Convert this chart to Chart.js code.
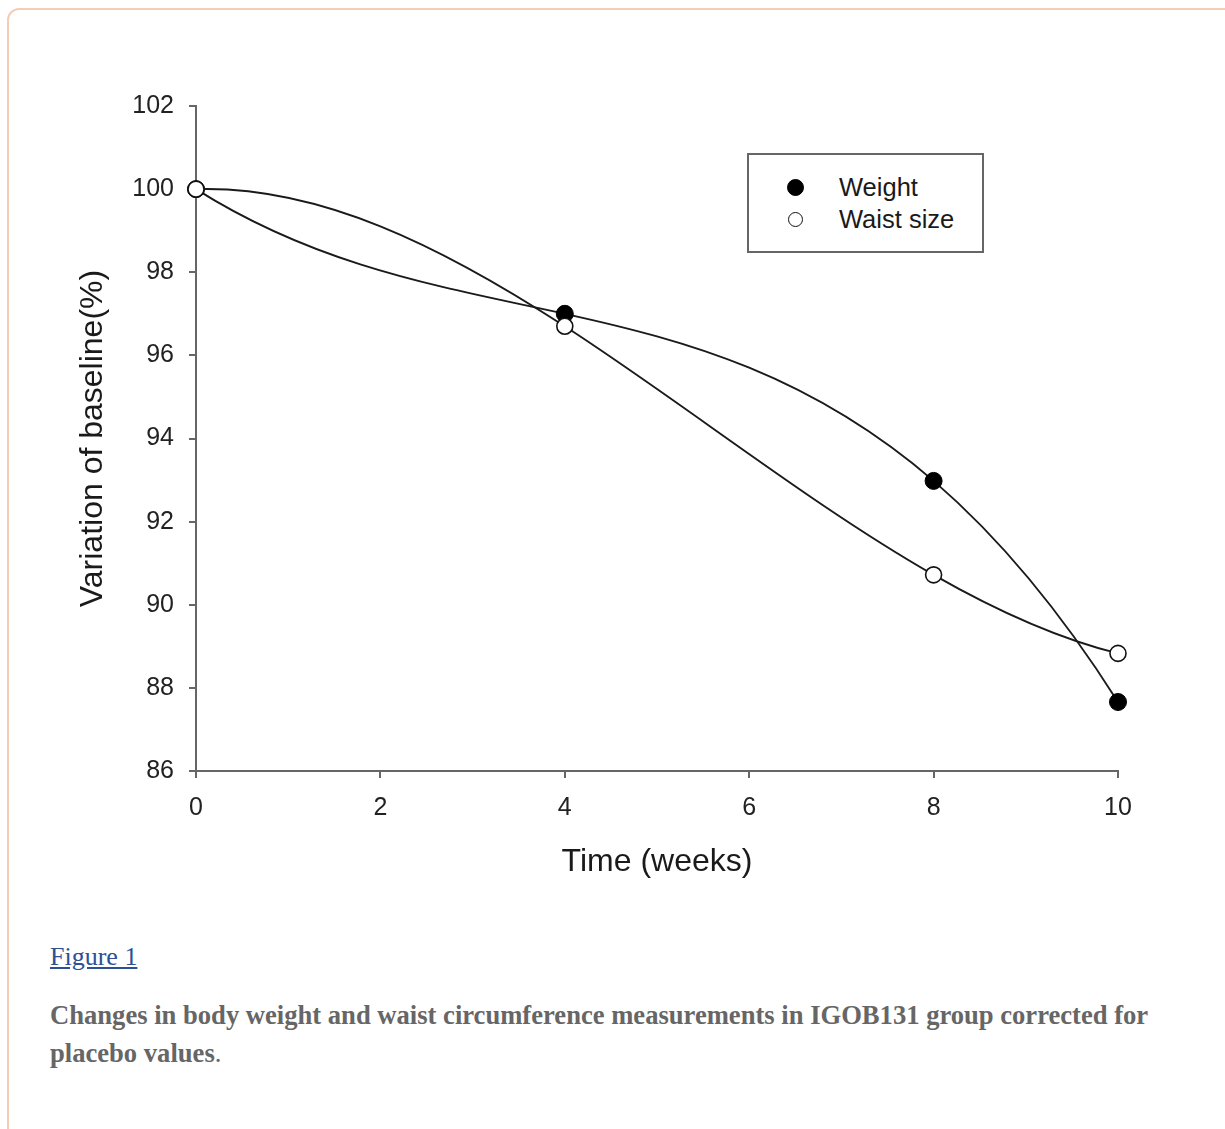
<!DOCTYPE html>
<html>
<head>
<meta charset="utf-8">
<script src="https://cdn.jsdelivr.net/npm/chart.js@4.4.1/dist/chart.umd.min.js"></script>
<style>
  html, body { margin: 0; padding: 0; background: #ffffff; }
  body { width: 1225px; height: 1129px; position: relative; overflow: hidden; }
  #frame { position: absolute; left: 7px; top: 8px; width: 1260px; height: 1200px;
           border: 2px solid #f4cdb7; border-radius: 12px; box-sizing: border-box; }
  #chart { position: absolute; left: 0; top: 0; }
  #legend { position: absolute; left: 747px; top: 153px; width: 237px; height: 100px;
            box-sizing: border-box; border: 2px solid #666; background: #fff;
            font-family: "Liberation Sans", Arial, sans-serif; font-size: 25.5px; color: #1a1a1a; }
  .item { position: absolute; left: 0; height: 30px; line-height: 30px; }
  .mark { position: absolute; border-radius: 50%; box-sizing: border-box; }
  .lab { position: absolute; left: 90px; white-space: nowrap; }
  #fig { position: absolute; left: 50px; top: 942px; font-family: "Liberation Serif", "Times New Roman", serif;
         font-size: 26px; color: #2c4f96; text-decoration: underline; }
  #cap { position: absolute; left: 50px; top: 996px; width: 1170px; font-family: "Liberation Serif", "Times New Roman", serif;
         font-size: 26.6px; line-height: 38px; color: #666; }
  #cap b { font-weight: bold; }
</style>
</head>
<body>
<div id="frame"></div>
<canvas id="chart" width="1225" height="881"></canvas>
<div id="legend"></div>
<div id="fig">Figure 1</div>
<div id="cap"><b>Changes in body weight and waist circumference measurements in IGOB131 group corrected for<br>placebo values</b>.</div>
<script>
// ---- data ----
const weeks = [0, 4, 8, 10];
const weightValues = [100, 97.0, 92.98, 87.66];
const waistValues = [100, 96.7, 90.72, 88.83];
const seriesNames = ["Weight", "Waist size"];
const xTicks = [0, 2, 4, 6, 8, 10];
const yTicks = [86, 88, 90, 92, 94, 96, 98, 100, 102];
const xTitle = "Time (weeks)";
const yTitle = "Variation of baseline(%)";

const toPoints = (xs, ys) => xs.map((x, i) => ({ x: x, y: ys[i] }));

const tickFont = { family: "'Liberation Sans', Arial, sans-serif", size: 25 };
const titleFont = { family: "'Liberation Sans', Arial, sans-serif", size: 32 };
const axisColor = '#666';

// The original figure joins the points with the polynomial curve that passes
// through them. This plugin sets the line's Bezier control points so that each
// segment follows that curve, using the chart's own scales.
function lagrange(xs, ys, x) {
  let s = 0;
  for (let j = 0; j < xs.length; j++) {
    let l = 1;
    for (let k = 0; k < xs.length; k++) if (k !== j) l *= (x - xs[k]) / (xs[j] - xs[k]);
    s += ys[j] * l;
  }
  return s;
}
const polyCurve = {
  id: 'polyCurve',
  beforeDatasetDraw(chart, args) {
    const meta = args.meta;
    const line = meta.dataset;
    const pts = meta.data;
    const raw = chart.data.datasets[args.index].data;
    const xs = raw.map(d => d.x), ys = raw.map(d => d.y);
    const xS = meta.xScale, yS = meta.yScale;
    line.updateControlPoints(chart.chartArea, 'x');
    const eps = 1e-4;
    for (let i = 0; i < pts.length; i++) {
      const d = (lagrange(xs, ys, xs[i] + eps) - lagrange(xs, ys, xs[i] - eps)) / (2 * eps);
      const p = pts[i];
      if (i > 0) {
        const h = (xs[i] - xs[i - 1]) / 3;
        p.cp1x = xS.getPixelForValue(xs[i] - h);
        p.cp1y = yS.getPixelForValue(ys[i] - d * h);
      } else { p.cp1x = p.x; p.cp1y = p.y; }
      if (i < pts.length - 1) {
        const h = (xs[i + 1] - xs[i]) / 3;
        p.cp2x = xS.getPixelForValue(xs[i] + h);
        p.cp2y = yS.getPixelForValue(ys[i] + d * h);
      } else { p.cp2x = p.x; p.cp2y = p.y; }
    }
    line._path = undefined;
  }
};

const cfg = {
  type: 'line',
  data: {
    datasets: [
      {
        label: seriesNames[0],
        data: toPoints(weeks, weightValues),
        borderColor: '#1a1a1a',
        borderWidth: 1.9,
        tension: 0.4,
        pointRadius: 8.5,
        pointBackgroundColor: '#000',
        pointBorderColor: '#000',
        pointBorderWidth: 1,
        fill: false,
        clip: false,
        order: 2
      },
      {
        label: seriesNames[1],
        data: toPoints(weeks, waistValues),
        borderColor: '#1a1a1a',
        borderWidth: 1.9,
        tension: 0.4,
        pointRadius: 8,
        pointBackgroundColor: '#fff',
        pointBorderColor: '#111',
        pointBorderWidth: 1.6,
        fill: false,
        clip: false,
        order: 1
      }
    ]
  },
  options: {
    responsive: false,
    animation: false,
    devicePixelRatio: 1,
    layout: { padding: { top: 106, right: 107, left: 0, bottom: 0 } },
    plugins: { legend: { display: false }, tooltip: { enabled: false } },
    scales: {
      x: {
        type: 'linear',
        min: xTicks[0], max: xTicks[xTicks.length - 1],
        afterBuildTicks: s => { s.ticks = xTicks.map(v => ({ value: v })); },
        afterFit: s => { s.height = 110; },
        ticks: { font: tickFont, color: '#222', padding: 15, maxRotation: 0 },
        grid: { drawOnChartArea: false, drawTicks: true, tickLength: 7, color: axisColor, lineWidth: 2 },
        border: { display: true, color: axisColor, width: 2 },
        title: { display: true, text: xTitle, font: titleFont, color: '#1a1a1a', padding: { top: 0, bottom: 0 } }
      },
      y: {
        type: 'linear',
        min: yTicks[0], max: yTicks[yTicks.length - 1],
        afterBuildTicks: s => { s.ticks = yTicks.map(v => ({ value: v })); },
        afterFit: s => { s.width = 196; },
        ticks: { font: tickFont, color: '#222', padding: 15 },
        grid: { drawOnChartArea: false, drawTicks: true, tickLength: 7, color: axisColor, lineWidth: 2 },
        border: { display: true, color: axisColor, width: 2 },
        title: { display: true, text: yTitle, font: titleFont, color: '#1a1a1a', padding: { top: 74, bottom: 0 } }
      }
    }
  },
  plugins: [polyCurve]
};

const chart = new Chart(document.getElementById('chart'), cfg);

// HTML legend built from the datasets
const legend = document.getElementById('legend');
chart.data.datasets.forEach((ds, i) => {
  const item = document.createElement('div');
  item.className = 'item';
  item.style.top = (17 + i * 32) + 'px';
  item.style.width = '100%';
  const m = document.createElement('div');
  m.className = 'mark';
  const r = i === 0 ? ds.pointRadius : ds.pointRadius - 0.5;
  m.style.width = (2 * r) + 'px';
  m.style.height = (2 * r) + 'px';
  m.style.left = (46 - r) + 'px';
  m.style.top = (15 - r) + 'px';
  m.style.background = ds.pointBackgroundColor;
  m.style.border = ds.pointBorderWidth + 'px solid ' + ds.pointBorderColor;
  const t = document.createElement('div');
  t.className = 'lab';
  t.textContent = ds.label;
  item.appendChild(m);
  item.appendChild(t);
  legend.appendChild(item);
});
</script>
</body>
</html>
